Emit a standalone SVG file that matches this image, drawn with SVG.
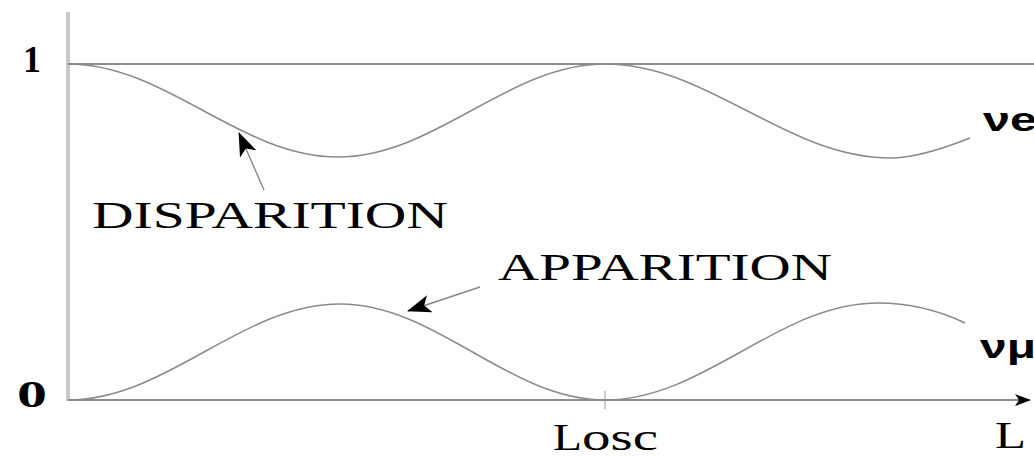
<svg xmlns="http://www.w3.org/2000/svg" width="1034" height="456" viewBox="0 0 1034 456">
<defs>
<style>
.lbl{font-family:"Liberation Serif",serif;font-size:37px;fill:#000}
.num{font-family:"Liberation Serif",serif;font-size:37px;font-weight:bold;fill:#000}
.nu{font-family:"Liberation Sans",sans-serif;font-size:34px;font-weight:bold;fill:#000}
.curve{fill:none;stroke:#8a8a8a;stroke-width:1.5}
.ptr{fill:none;stroke:#888;stroke-width:1.4}
</style>
<marker id="ah" viewBox="0 0 24 18" refX="23" refY="9" markerWidth="24" markerHeight="18" markerUnits="userSpaceOnUse" orient="auto">
<path d="M0,0 L24,9 L0,18 L6,9 Z" fill="#000"/>
</marker>
<marker id="axh" viewBox="0 0 16 12" refX="15" refY="6" markerWidth="16" markerHeight="12" markerUnits="userSpaceOnUse" orient="auto">
<path d="M0,0 L16,6 L0,12 L4,6 Z" fill="#000"/>
</marker>
</defs>
<rect width="1034" height="456" fill="#fff"/>
<g id="axes">
<line x1="68" y1="12" x2="68" y2="401" stroke="#c8c8c8" stroke-width="4"/>
<line x1="68" y1="64" x2="1034" y2="64" stroke="#666" stroke-width="1.4"/>
<line x1="68" y1="400" x2="1030" y2="400" stroke="#666" stroke-width="1.6" marker-end="url(#axh)"/>
<line x1="605" y1="391" x2="605" y2="409" stroke="#aaa" stroke-width="1.2"/>
<text class="num" x="23" y="72" textLength="18" lengthAdjust="spacingAndGlyphs">1</text>
<text class="num" x="17" y="407" textLength="30" lengthAdjust="spacingAndGlyphs">0</text>
<text class="lbl" x="553" y="450" textLength="29" lengthAdjust="spacingAndGlyphs">L</text>
<text class="lbl" x="582" y="450" font-size="34" textLength="76" lengthAdjust="spacingAndGlyphs">osc</text>
<text class="lbl" x="995" y="448" textLength="31" lengthAdjust="spacingAndGlyphs">L</text>
</g>
<g id="nu-e">
<path class="curve" d="M68,64 C166.3,64 239.7,157 338,157 C435,157 508,64 605,64 C708.8,64 786.2,158 890,158 Q920,158 970,138"/>
<text class="nu" x="983" y="131" textLength="54" lengthAdjust="spacingAndGlyphs">νe</text>
</g>
<g id="nu-mu">
<path class="curve" d="M68,400 C167,400 241,304 340,304 C436.4,304 508.6,400 605,400 C704.4,400 778.6,303 878,303 Q923,303 965,323"/>
<text class="nu" x="980" y="358" textLength="56" lengthAdjust="spacingAndGlyphs">νμ</text>
</g>
<g id="disparition">
<text class="lbl" x="92" y="228" textLength="356" lengthAdjust="spacingAndGlyphs">DISPARITION</text>
</g>
<g id="apparition">
<text class="lbl" x="498" y="280" textLength="334" lengthAdjust="spacingAndGlyphs">APPARITION</text>
</g>
<g id="connectors">
<line class="ptr" x1="264" y1="190" x2="239" y2="133" marker-end="url(#ah)"/>
<line class="ptr" x1="480" y1="287" x2="408" y2="311" marker-end="url(#ah)"/>
</g>
</svg>
